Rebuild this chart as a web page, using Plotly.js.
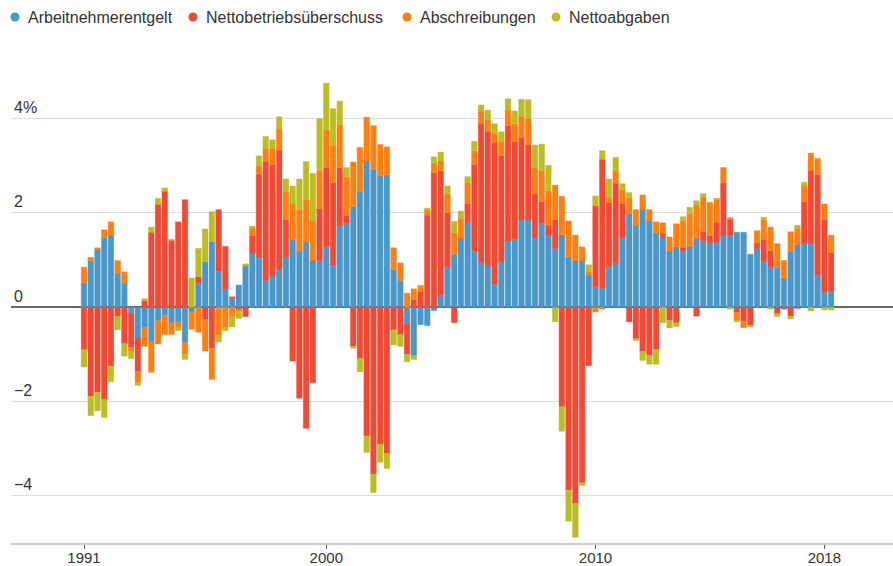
<!DOCTYPE html>
<html>
<head>
<meta charset="utf-8">
<script src="https://cdn.plot.ly/plotly-3.0.1.min.js"></script>
<style>
  html, body { margin: 0; padding: 0; background: #fff; }
  #chart { width: 893px; height: 566px; }
</style>
</head>
<body>
<div id="chart"></div>
<script>
// Quarters 1991 Q1 ... 2018 Q4
const quarters = [];
for (let y = 1991; y <= 2018; y++) { for (let q = 1; q <= 4; q++) quarters.push(y + " Q" + q); }

const seriesNames = ["Arbeitnehmerentgelt", "Nettobetriebsüberschuss", "Abschreibungen", "Nettoabgaben"];

// Wachstumsbeiträge in Prozentpunkten
const arbeitnehmerentgelt = [
  0.52, 0.99, 1.22, 1.48, 1.53, 0.72, 0.51, -0.12, -0.65, -0.43,
  -0.73, -0.28, -0.17, -0.33, -0.32, -0.75, -0.10, 0.51, 0.97, 1.39,
  0.76, 0.37, 0.18, 0.47, 0.88, 1.14, 1.05, 0.57, 0.66, 0.81,
  1.07, 1.44, 1.19, 1.38, 0.98, 0.99, 1.29, 0.89, 1.72, 1.77,
  2.13, 2.46, 3.10, 2.92, 2.78, 2.81, 0.80, 0.57, -0.34, -1.03,
  -0.37, -0.39, -0.07, 0.25, 0.86, 1.12, 1.46, 1.79, 1.19, 0.95,
  0.88, 0.48, 0.98, 1.40, 1.44, 1.85, 1.85, 1.46, 1.78, 1.53,
  1.24, 1.54, 1.07, 0.98, 0.98, 0.68, 0.42, 0.40, 0.86, 0.93,
  1.46, 1.99, 1.74, 2.08, 1.83, 1.58, 1.49, 1.19, 1.28, 1.19,
  1.28, 1.46, 1.41, 1.36, 1.38, 1.53, 1.53, 1.59, 1.59, 1.12,
  1.24, 0.98, 0.85, 0.84, 0.61, 1.18, 1.32, 1.35, 1.35, 0.68,
  0.32, 0.34
];
const nettobetriebsueberschuss = [
  -0.90, -1.89, -1.80, -1.96, -1.25, -0.19, -0.77, -0.73, -0.71, 0.14,
  1.59, 2.18, 2.46, 1.42, 1.81, 2.28, 0.00, 0.14, -0.26, -0.87,
  1.31, 0.92, 0.04, -0.04, -0.20, 0.37, 1.77, 2.52, 2.37, 2.52,
  0.78, -1.14, -1.93, -2.57, -1.60, 1.10, 1.67, 1.75, 1.24, 0.18,
  -0.83, -1.09, -2.73, -3.54, -2.90, -3.10, -0.48, -0.58, -0.66, 0.16,
  0.33, 1.95, 2.85, 2.64, 1.14, -0.33, 0.00, 0.40, 1.83, 2.95,
  2.84, 3.00, 2.23, 2.45, 2.07, 1.75, 1.60, 0.94, 0.46, 0.21,
  0.62, -2.11, -3.88, -4.16, -3.72, -1.24, 1.73, 2.74, 1.36, 1.70,
  0.74, -0.31, -0.67, -0.93, -1.02, -0.90, 0.08, -0.28, -0.33, 0.08,
  0.00, -0.19, 0.20, 0.16, 0.42, 1.11, 0.33, -0.11, -0.30, -0.38,
  0.12, 0.45, 0.35, -0.14, -0.04, -0.19, -0.03, 0.89, 1.55, 2.13,
  1.53, 0.82
];
const abschreibungen = [
  0.33, 0.07, 0.04, 0.16, 0.28, 0.27, 0.24, -0.08, -0.24, -0.40,
  -0.65, -0.50, -0.41, -0.25, -0.10, -0.25, -0.37, -0.53, -0.67, -0.66,
  -0.60, -0.42, -0.20, -0.05, 0.00, 0.17, 0.19, 0.28, 0.34, 0.46,
  0.60, 0.76, 0.88, 0.91, 0.86, 0.80, 0.81, 0.79, 0.91, 0.82,
  0.95, 0.93, 0.93, 0.93, 0.67, 0.59, 0.46, 0.37, 0.30, 0.23,
  0.13, 0.11, 0.21, 0.22, 0.41, 0.46, 0.42, 0.45, 0.30, 0.26,
  0.26, 0.21, 0.30, 0.34, 0.38, 0.45, 0.55, 0.55, 0.66, 0.73,
  0.73, 0.81, 0.76, 0.55, 0.30, 0.08, -0.10, -0.04, 0.11, 0.26,
  0.29, 0.33, 0.33, 0.30, 0.24, 0.23, 0.22, 0.30, 0.49, 0.57,
  0.71, 0.71, 0.73, 0.69, 0.49, 0.32, 0.04, -0.16, -0.12, 0.00,
  0.26, 0.42, 0.50, 0.51, 0.38, 0.42, 0.35, 0.35, 0.37, 0.33,
  0.34, 0.37
];
const nettoabgaben = [
  -0.37, -0.41, -0.40, -0.38, -0.33, -0.29, -0.27, -0.16, -0.06, 0.04,
  0.11, 0.13, 0.07, 0.02, -0.08, -0.11, 0.62, 0.60, 0.69, 0.64,
  -0.14, -0.08, -0.22, -0.15, 0.04, 0.04, 0.20, 0.25, 0.18, 0.25,
  0.27, 0.37, 0.65, 0.80, 1.00, 1.11, 0.98, 0.78, 0.50, 0.19,
  -0.04, -0.28, -0.35, -0.39, -0.39, -0.32, -0.32, -0.25, -0.16, -0.08,
  0.00, 0.04, 0.13, 0.18, 0.16, 0.24, 0.16, 0.13, 0.20, 0.13,
  0.20, 0.20, 0.21, 0.23, 0.27, 0.36, 0.40, 0.49, 0.56, 0.54,
  -0.31, -0.52, -0.66, -0.72, -0.06, 0.14, 0.21, 0.18, 0.39, 0.29,
  0.13, 0.11, -0.04, -0.20, -0.19, -0.31, -0.33, -0.16, -0.08, 0.08,
  0.13, 0.09, 0.07, 0.02, 0.02, 0.00, -0.04, -0.04, -0.02, -0.04,
  0.00, 0.06, -0.04, -0.06, 0.00, -0.06, 0.07, 0.06, -0.08, 0.02,
  -0.06, -0.06
];

const xTickVals = [0, 36, 76, 110];
const xTickText = ["1991", "2000", "2010", "2018"];
const yTickVals = [-4, -2, 0, 2, 4];
const yTickText = ["\u22124", "\u22122", "0", "2", "4%"];

const colors = ["#4a97c9", "#f04a35", "#ff7f10", "#bcbd22"];
const edgeColors = ["rgba(74,151,201,0.35)", "rgba(240,74,53,0.35)", "rgba(255,127,16,0.35)", "rgba(188,189,34,0.35)"];

const xIdx = quarters.map((q, i) => i);
const values = [arbeitnehmerentgelt, nettobetriebsueberschuss, abschreibungen, nettoabgaben];

const traces = values.map((v, k) => ({
  type: "bar",
  name: seriesNames[k],
  x: xIdx,
  y: v,
  text: quarters,
  hovertemplate: "%{text}: %{y:.2f}<extra>" + seriesNames[k] + "</extra>",
  textposition: "none",
  marker: { color: colors[k], line: { color: edgeColors[k], width: 1 } },
  showlegend: false
}));

// plot area geometry (pixels)
const W = 893, H = 566, L = 11, R = 0, T = 70, B = 23;
const pw = W - L - R, ph = H - T - B;
const px2x = px => (px - L) / pw;
const py2y = py => (H - B - py) / ph;

// manual legend
const legendDotPx = [15, 193, 407, 556];
const legendY = 17;
const shapes = seriesNames.map((n, k) => ({
  type: "circle", xref: "paper", yref: "paper",
  xsizemode: "pixel", ysizemode: "pixel",
  xanchor: px2x(legendDotPx[k]), yanchor: py2y(legendY),
  x0: -4.5, x1: 4.5, y0: -4.5, y1: 4.5,
  fillcolor: colors[k], line: { width: 0 }
}));
const annotations = seriesNames.map((n, k) => ({
  text: n, xref: "paper", yref: "paper",
  x: px2x(legendDotPx[k] + 11), y: py2y(legendY),
  xanchor: "left", yanchor: "middle", showarrow: false,
  font: { family: "Liberation Sans, Arial, sans-serif", size: 16, color: "#333" }
}));

const layout = {
  width: W, height: H,
  margin: { l: L, r: R, t: T, b: B, pad: 0 },
  paper_bgcolor: "#fff", plot_bgcolor: "#fff",
  barmode: "relative", bargap: 0.16,
  font: { family: "Liberation Sans, Arial, sans-serif", size: 15, color: "#333" },
  xaxis: {
    range: [-10.85, 120.2], tickmode: "array", tickvals: xTickVals, ticktext: xTickText,
    ticks: "outside", ticklen: 4, tickwidth: 1, tickcolor: "#555",
    ticklabelstandoff: -4,
    showline: true, linecolor: "#cccccc", linewidth: 1.5,
    showgrid: false, zeroline: false, fixedrange: true,
    tickfont: { size: 15, color: "#333" }
  },
  yaxis: {
    range: [-5, 5.03], tickmode: "array", tickvals: yTickVals, ticktext: yTickText,
    ticklabelposition: "inside top", ticks: "", showline: false,
    showgrid: true, gridcolor: "rgba(0,0,0,0.13)", gridwidth: 1,
    zeroline: true, zerolinecolor: "#666", zerolinewidth: 2,
    layer: "above traces", fixedrange: true,
    tickfont: { size: 16, color: "#333" }
  },
  shapes: shapes,
  annotations: annotations
};

Plotly.newPlot("chart", traces, layout, { displayModeBar: false, staticPlot: true });
</script>
</body>
</html>
